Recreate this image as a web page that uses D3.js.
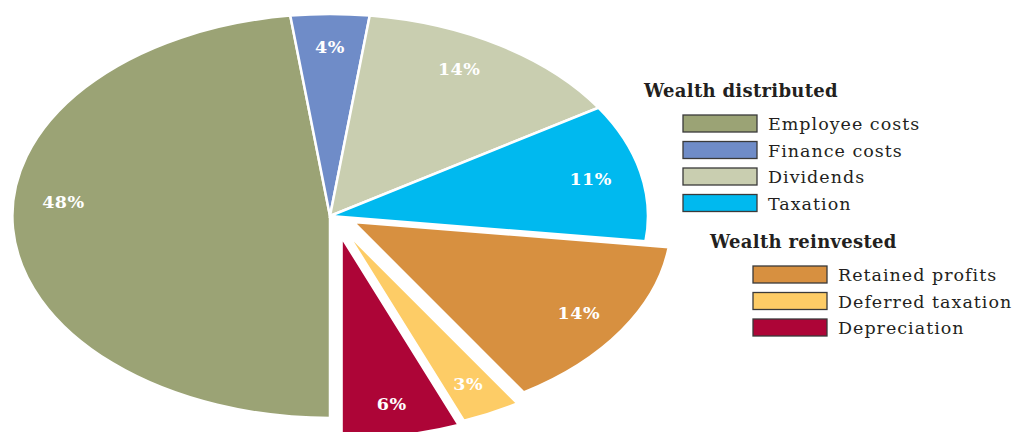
<!DOCTYPE html>
<html>
<head>
<meta charset="utf-8">
<script src="https://cdn.jsdelivr.net/npm/d3@7"></script>
<style>
  body { margin: 0; background: #fff; }
  svg { display: block; }
  text { font-family: "DejaVu Serif", serif; }
</style>
</head>
<body>
<svg id="chart" width="1013" height="432"></svg>
<script>
const width = 1013;
const height = 432;

// values (percent)
const categories = ["Employee costs", "Finance costs", "Dividends", "Taxation",
                    "Retained profits", "Deferred taxation", "Depreciation"];
const shares = [48, 4, 14, 11, 14, 3, 6];
const groups = ["Wealth distributed", "Wealth distributed", "Wealth distributed", "Wealth distributed",
                "Wealth reinvested", "Wealth reinvested", "Wealth reinvested"];
const colors = ["#9ba375", "#6f8cc8", "#c9ceb0", "#00b9ef", "#d79040", "#fdcc66", "#ad0537"];

const svg = d3.select("#chart");

// squashed pie: draw on a unit circle and stretch it
const cx = 330, cy = 216, rx = 318, ry = 202;
const explode = 24, tilt = 18 * Math.PI / 180;

const pie = d3.pie()
  .value(d => d.share)
  .sort(null)
  .startAngle(Math.PI)
  .endAngle(3 * Math.PI);

const arc = d3.arc().innerRadius(0).outerRadius(1);

const data = categories.map((c, i) => ({ name: c, share: shares[i], group: groups[i], color: colors[i] }));
const arcs = pie(data);

function offset(d) {
  if (d.data.group !== "Wealth reinvested") return [0, 0];
  const mid = (d.startAngle + d.endAngle) / 2 - tilt;
  return [explode * Math.sin(mid), -explode * Math.cos(mid)];
}

const slices = svg.append("g").selectAll("g")
  .data(arcs)
  .join("g")
  .attr("transform", d => {
    const [dx, dy] = offset(d);
    return `translate(${cx + dx},${cy + dy}) scale(${rx},${ry})`;
  });

slices.append("path")
  .attr("d", arc)
  .attr("fill", d => d.data.color)
  .attr("stroke", "#fff")
  .attr("stroke-width", 2.5)
  .attr("vector-effect", "non-scaling-stroke");

// percentage labels
const labelLift = { "Employee costs": -25, "Dividends": -4 };
svg.append("g").selectAll("text")
  .data(arcs)
  .join("text")
  .attr("x", d => {
    const mid = (d.startAngle + d.endAngle) / 2;
    return cx + offset(d)[0] + rx * 0.84 * Math.sin(mid) - (d.data.name === "Dividends" ? 14 : 0);
  })
  .attr("y", d => {
    const mid = (d.startAngle + d.endAngle) / 2;
    return cy + offset(d)[1] - ry * 0.84 * Math.cos(mid) + (labelLift[d.data.name] || 0);
  })
  .attr("dy", "0.36em")
  .attr("text-anchor", "middle")
  .attr("fill", "#fff")
  .attr("font-weight", "bold")
  .attr("font-size", 17.5)
  .attr("letter-spacing", 0.5)
  .text(d => d.data.share + "%");

// legends
const legendGroups = [
  { title: "Wealth distributed", x: 644, y: 97, boxX: 683, rows: data.filter(d => d.group === "Wealth distributed") },
  { title: "Wealth reinvested", x: 710, y: 248, boxX: 753, rows: data.filter(d => d.group === "Wealth reinvested") }
];

legendGroups.forEach(lg => {
  const g = svg.append("g");
  g.append("text")
    .attr("x", lg.x)
    .attr("y", lg.y)
    .attr("font-weight", "bold")
    .attr("font-size", 18)
    .attr("letter-spacing", 0.3)
    .attr("fill", "#231f20")
    .text(lg.title);

  const row = g.selectAll("g.row")
    .data(lg.rows)
    .join("g")
    .attr("transform", (d, i) => `translate(${lg.boxX},${lg.y + 18 + i * 26.5})`);

  row.append("rect")
    .attr("width", 74)
    .attr("height", 17)
    .attr("fill", d => d.color)
    .attr("stroke", "#3a3a3a")
    .attr("stroke-width", 1.3);

  row.append("text")
    .attr("x", 85)
    .attr("y", 15)
    .attr("font-size", 17.5)
    .attr("letter-spacing", 1)
    .attr("fill", "#231f20")
    .text(d => d.name);
});
</script>
</body>
</html>
